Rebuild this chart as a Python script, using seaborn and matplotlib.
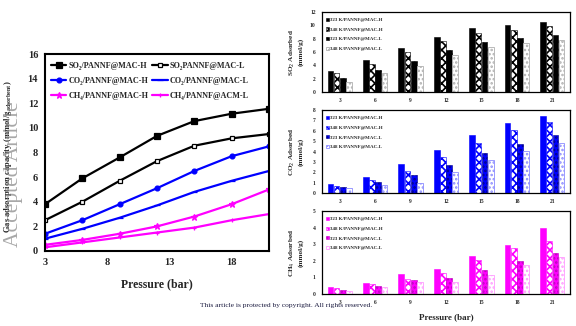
import matplotlib
matplotlib.use("Agg")
import matplotlib.pyplot as plt
import seaborn as sns
import pandas as pd

sns.set_theme(style="white")
plt.rcParams["font.family"] = ["Liberation Serif", "DejaVu Serif"]
plt.rcParams["hatch.linewidth"] = 1.2

# ---------------- isotherm data (left panel) ----------------
pressure = [3, 6, 9, 12, 15, 18, 21]
so2_mac_h = [3.8, 5.9, 7.6, 9.35, 10.55, 11.15, 11.55]
so2_mac_l = [2.5, 4.0, 5.7, 7.3, 8.55, 9.15, 9.5]
co2_mac_h = [1.4, 2.5, 3.8, 5.1, 6.5, 7.7, 8.5]
co2_mac_l = [1.0, 1.8, 2.7, 3.7, 4.8, 5.7, 6.5]
ch4_mac_h = [0.5, 0.9, 1.4, 2.0, 2.8, 3.8, 5.0]
ch4_acm_l = [0.3, 0.7, 1.1, 1.5, 1.9, 2.5, 3.0]

# ---------------- temperature comparison (right panels) ----------------
bar_pressure = ["3", "6", "9", "12", "15", "18", "21"]
bar_series = ["323 K/PANNF@MAC-H", "348 K/PANNF@MAC-H",
              "323 K/PANNF@MAC-L", "348 K/PANNF@MAC-L"]

so2_323_h = [3.2, 4.85, 6.6, 8.3, 9.55, 10.1, 10.55]
so2_348_h = [2.8, 4.2, 5.95, 7.6, 8.9, 9.3, 9.85]
so2_323_l = [2.05, 3.3, 4.6, 6.3, 7.5, 8.05, 8.5]
so2_348_l = [1.5, 2.9, 3.95, 5.6, 6.8, 7.4, 7.85]

co2_323_h = [0.9, 1.55, 2.8, 4.13, 5.55, 6.78, 7.45]
co2_348_h = [0.72, 1.25, 2.14, 3.46, 4.85, 6.08, 6.85]
co2_323_l = [0.58, 1.02, 1.73, 2.72, 3.84, 4.74, 5.55]
co2_348_l = [0.48, 0.8, 1.0, 2.0, 3.14, 4.03, 4.85]

ch4_323_h = [0.44, 0.68, 1.18, 1.49, 2.31, 2.97, 3.96]
ch4_348_h = [0.34, 0.58, 0.9, 1.27, 2.03, 2.77, 3.17]
ch4_323_l = [0.24, 0.48, 0.84, 0.98, 1.43, 1.99, 2.49]
ch4_348_l = [0.18, 0.4, 0.74, 0.74, 1.14, 1.73, 2.25]

W, H = 576, 326
fig = plt.figure(figsize=(W / 100, H / 100), dpi=100)


def px_axes(left, top, right, bottom):
    return fig.add_axes([left / W, 1 - bottom / H, (right - left) / W, (bottom - top) / H])


bold = dict(fontweight="bold")

# ---------------- left: adsorption isotherms ----------------
ax = px_axes(45, 54, 269, 251)
lines = [
    (so2_mac_h, "SO₂/PANNF@MAC-H", "black", "s", "black", 4.0),
    (co2_mac_h, "CO₂/PANNF@MAC-H", "#0000ff", "o", "#0000ff", 3.5),
    (ch4_mac_h, "CH₄/PANNF@MAC-H", "#ff00ff", "*", "#ff00ff", 4.5),
    (so2_mac_l, "SO₂PANNF@MAC-L", "black", "s", "white", 3.5),
    (co2_mac_l, "CO₂/PANNF@MAC-L", "#0000ff", "_", "#0000ff", 4.0),
    (ch4_acm_l, "CH₄/PANNF@ACM-L", "#ff00ff", "+", "#ff00ff", 3.5),
]
for vals, lab, col, mk, mfc, ms in lines:
    sns.lineplot(x=pressure, y=vals, ax=ax, color=col, lw=1.6, marker=mk,
                 markersize=ms, markerfacecolor=mfc, markeredgecolor=col,
                 markeredgewidth=0.9, label=lab)
ax.set_xlim(3, 21)
ax.set_ylim(0, 16)
ax.set_xticks([3, 8, 13, 18])
ax.set_yticks(range(0, 17, 2))
ax.tick_params(direction="in", length=3, width=1, labelsize=7.5, pad=5)
for t in ax.get_xticklabels() + ax.get_yticklabels():
    t.set_fontweight("bold")
for s in ax.spines.values():
    s.set_linewidth(1.5)
    s.set_color("black")
ax.set_xlabel("Pressure (bar)", fontsize=8.5, labelpad=8, **bold)
ax.set_ylabel("Gas adsorption capacity (mmol/g$_{\\mathregular{adsorbent}}$)",
              fontsize=6.2, **bold)
ax.yaxis.set_label_coords(-0.14, 0.48)
leg = ax.legend(ncol=2, loc="upper left", frameon=False,
                prop=dict(weight="bold", size=5.9), handlelength=1.9,
                handletextpad=0.25, columnspacing=0.45, labelspacing=0.85,
                borderaxespad=0.3, bbox_to_anchor=(0.0, 0.99))

# ---------------- right: bar panels ----------------
def bar_panel(top, bottom, values, color, pale, dark, ymax, step, ylabel, show_xlabel=False):
    axb = px_axes(322, top, 570, bottom)
    rows = []
    for name, vals in zip(bar_series, values):
        for p, v in zip(bar_pressure, vals):
            rows.append(dict(pressure=p, series=name, value=v))
    df = pd.DataFrame(rows)
    sns.barplot(data=df, x="pressure", y="value", hue="series", order=bar_pressure,
                hue_order=bar_series, ax=axb, width=0.7, gap=0.07,
                legend=False, saturation=1)
    styles = [
        dict(facecolor=color, edgecolor=color, hatch=None, lw=0.4),
        dict(facecolor="white", edgecolor=color, hatch="xxxx", lw=0.4),
        dict(facecolor=color, edgecolor=dark, hatch="....", lw=0.4),
        dict(facecolor="white", edgecolor=pale, hatch="....", lw=0.6),
    ]
    for cont, st in zip(axb.containers, styles):
        for patch in cont:
            patch.set_facecolor(st["facecolor"])
            patch.set_edgecolor(st["edgecolor"])
            patch.set_linewidth(st["lw"])
            if st["hatch"]:
                patch.set_hatch(st["hatch"])
    axb.set_xlim(-0.5, 6.5)
    axb.set_ylim(0, ymax)
    axb.set_yticks([i * step for i in range(int(round(ymax / step)) + 1)])
    axb.tick_params(direction="out", length=1.5, width=0.5, labelsize=4, pad=3)
    for t in axb.get_xticklabels() + axb.get_yticklabels():
        t.set_fontweight("bold")
    for s in axb.spines.values():
        s.set_linewidth(0.9)
        s.set_color("black")
    axb.set_xlabel("Pressure (bar)" if show_xlabel else "", fontsize=6.5,
                   labelpad=6, **bold)
    axb.set_ylabel(ylabel, fontsize=5.2, linespacing=1.1, **bold)
    axb.yaxis.set_label_coords(-0.075, 0.5)
    axb.legend(axb.containers, bar_series, loc="upper left", frameon=False,
               prop=dict(weight="bold", size=3.6), handlelength=0.6,
               handleheight=0.6, handletextpad=0.3, labelspacing=1.05,
               borderaxespad=0.3, bbox_to_anchor=(0.0, 0.97))
    return axb


bar_panel(12, 92, [so2_323_h, so2_348_h, so2_323_l, so2_348_l],
          "black", "#b0b0b0", "#000000", 12, 2, "SO$_2$ Adsorbed\n(mmol/g)")
bar_panel(110, 193, [co2_323_h, co2_348_h, co2_323_l, co2_348_l],
          "#0000ff", "#8c8cff", "#00008a", 8, 1, "CO$_2$ Adsorbed\n(mmol/g)")
bar_panel(211, 294, [ch4_323_h, ch4_348_h, ch4_323_l, ch4_348_l],
          "#ff00ff", "#ff9cff", "#c000c0", 5, 1, "CH$_4$ Adsorbed\n(mmol/g)",
          show_xlabel=True)

# ---------------- page overlays ----------------
fig.text(14 / W, 1 - 174 / H, "Accepted Article", rotation=90, ha="center",
         va="center", fontsize=15.5, color="#8a8a8a", alpha=0.75,
         family=["Liberation Serif"])
fig.text(286 / W, 1 - 305 / H,
         "This article is protected by copyright. All rights reserved.",
         ha="center", va="center", fontsize=5.4, color="#1c1c40",
         family=["Liberation Serif"])

fig.savefig("out.png", dpi=100)
